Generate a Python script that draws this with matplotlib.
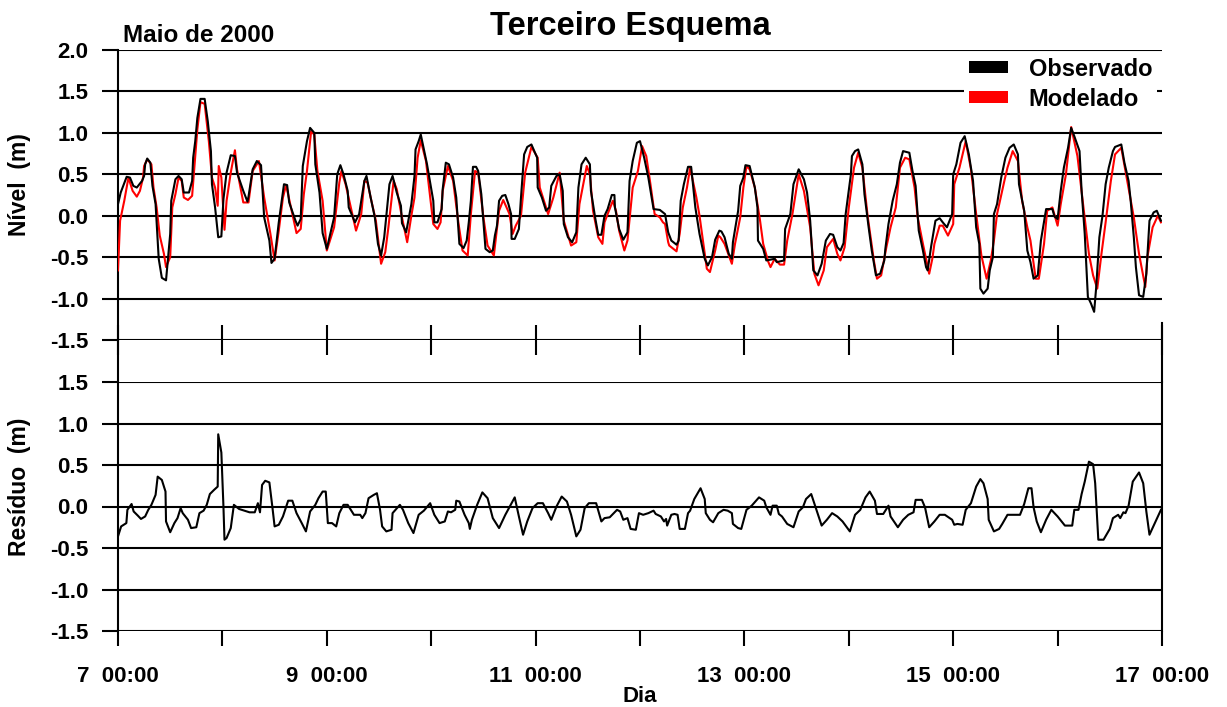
import numpy as np
import matplotlib.pyplot as plt
from matplotlib.patches import Patch
from matplotlib.lines import Line2D

plt.rcParams['font.family'] = ['Liberation Sans', 'DejaVu Sans']
plt.rcParams['font.weight'] = 'bold'

# dia do mes (maio de 2000) e nivel observado (m)
obs_t = [7.0, 7.026, 7.083, 7.115, 7.147, 7.18, 7.23, 7.25, 7.26, 7.28, 7.31, 7.33, 7.36, 7.39, 7.42, 7.46,
         7.5, 7.51, 7.55, 7.58, 7.61, 7.63, 7.68, 7.71, 7.72, 7.74, 7.76, 7.79, 7.83, 7.86, 7.89, 7.9,
         7.93, 7.96, 7.99, 8.01, 8.04, 8.08, 8.12, 8.14, 8.2, 8.24, 8.25, 8.29, 8.33, 8.37, 8.38, 8.4,
         8.45, 8.47, 8.5, 8.54, 8.59, 8.62, 8.64, 8.7, 8.72, 8.75, 8.77, 8.81, 8.84, 8.88, 8.89, 8.93,
         8.96, 9.0, 9.07, 9.1, 9.13, 9.16, 9.2, 9.21, 9.27, 9.31, 9.36, 9.38, 9.42, 9.46, 9.49, 9.52,
         9.55, 9.6, 9.63, 9.67, 9.71, 9.72, 9.76, 9.81, 9.84, 9.85, 9.88, 9.9, 9.96, 10.02, 10.03, 10.06,
         10.1, 10.11, 10.14, 10.17, 10.21, 10.24, 10.27, 10.31, 10.34, 10.36, 10.38, 10.4, 10.43, 10.45, 10.48, 10.52,
         10.56, 10.59, 10.61, 10.63, 10.65, 10.68, 10.71, 10.74, 10.765, 10.77, 10.8, 10.84, 10.86, 10.89, 10.92, 10.96,
         11.015, 11.02, 11.06, 11.1, 11.13, 11.15, 11.2, 11.23, 11.26, 11.27, 11.31, 11.35, 11.39, 11.41, 11.44, 11.48,
         11.52, 11.53, 11.57, 11.6, 11.63, 11.66, 11.69, 11.73, 11.755, 11.76, 11.8, 11.84, 11.88, 11.9, 11.93, 11.97,
         12.0, 12.04, 12.08, 12.13, 12.19, 12.22, 12.24, 12.27, 12.3, 12.35, 12.37, 12.39, 12.42, 12.46, 12.49, 12.51,
         12.53, 12.57, 12.62, 12.65, 12.69, 12.72, 12.76, 12.78, 12.81, 12.85, 12.88, 12.89, 12.94, 12.96, 12.99, 13.01,
         13.05, 13.1, 13.125, 13.13, 13.18, 13.21, 13.29, 13.31, 13.38, 13.39, 13.44, 13.47, 13.52, 13.57, 13.6, 13.63,
         13.66, 13.7, 13.74, 13.78, 13.82, 13.85, 13.89, 13.92, 13.95, 13.97, 14.02, 14.03, 14.06, 14.09, 14.13, 14.15,
         14.19, 14.22, 14.26, 14.3, 14.34, 14.35, 14.38, 14.42, 14.46, 14.49, 14.52, 14.58, 14.61, 14.64, 14.67, 14.71,
         14.74, 14.755, 14.79, 14.83, 14.87, 14.9, 14.94, 14.99, 15.0, 15.03, 15.07, 15.11, 15.15, 15.19, 15.22, 15.25,
         15.26, 15.29, 15.33, 15.35, 15.38, 15.39, 15.42, 15.46, 15.5, 15.54, 15.58, 15.62, 15.63, 15.68, 15.71, 15.74,
         15.77, 15.81, 15.84, 15.89, 15.95, 15.97, 16.0, 16.03, 16.06, 16.1, 16.13, 16.16, 16.21, 16.23, 16.26, 16.29,
         16.32, 16.35, 16.37, 16.4, 16.43, 16.46, 16.49, 16.53, 16.55, 16.61, 16.64, 16.68, 16.7, 16.73, 16.75, 16.78,
         16.82, 16.85, 16.88, 16.92, 16.95, 16.99]
obs_v = [0.14, 0.28, 0.47, 0.46, 0.36, 0.34, 0.42, 0.48, 0.62, 0.69, 0.64, 0.36, 0.14, -0.52, -0.75, -0.78,
         -0.22, 0.18, 0.44, 0.48, 0.44, 0.28, 0.28, 0.42, 0.70, 0.90, 1.18, 1.41, 1.41, 1.14, 0.78, 0.38,
         0.10, -0.26, -0.25, 0.20, 0.52, 0.73, 0.72, 0.52, 0.30, 0.17, 0.23, 0.56, 0.66, 0.61, 0.40, -0.02,
         -0.30, -0.57, -0.52, -0.08, 0.38, 0.37, 0.16, -0.06, -0.12, -0.04, 0.60, 0.90, 1.06, 1.00, 0.62, 0.28,
         -0.21, -0.40, -0.02, 0.50, 0.61, 0.50, 0.30, 0.10, -0.08, 0.02, 0.42, 0.48, 0.22, -0.02, -0.34, -0.48,
         -0.26, 0.38, 0.48, 0.28, 0.12, -0.09, -0.20, 0.14, 0.48, 0.80, 0.90, 0.98, 0.62, 0.18, -0.08, -0.08,
         0.08, 0.32, 0.64, 0.62, 0.46, 0.22, -0.34, -0.39, -0.30, -0.08, 0.18, 0.59, 0.59, 0.54, 0.26, -0.40,
         -0.44, -0.42, -0.24, -0.12, 0.18, 0.24, 0.25, 0.14, 0.02, -0.28, -0.28, -0.16, 0.22, 0.74, 0.83, 0.86,
         0.70, 0.34, 0.22, 0.06, 0.10, 0.36, 0.48, 0.50, 0.30, -0.10, -0.26, -0.32, -0.20, 0.34, 0.62, 0.70,
         0.62, 0.30, -0.02, -0.23, -0.23, 0.00, 0.08, 0.25, 0.25, 0.10, -0.16, -0.29, -0.20, 0.42, 0.66, 0.88,
         0.90, 0.70, 0.46, 0.08, 0.07, 0.04, 0.02, -0.20, -0.30, -0.35, -0.30, 0.18, 0.38, 0.59, 0.59, 0.34,
         0.10, -0.22, -0.52, -0.60, -0.50, -0.29, -0.18, -0.19, -0.26, -0.46, -0.52, -0.32, 0.06, 0.36, 0.46, 0.61,
         0.60, 0.34, 0.10, -0.30, -0.40, -0.54, -0.52, -0.56, -0.54, -0.16, 0.02, 0.38, 0.56, 0.44, 0.28, -0.06,
         -0.66, -0.72, -0.58, -0.30, -0.22, -0.23, -0.38, -0.42, -0.33, 0.02, 0.50, 0.72, 0.78, 0.80, 0.62, 0.26,
         -0.14, -0.42, -0.72, -0.70, -0.54, -0.40, -0.10, 0.18, 0.38, 0.64, 0.78, 0.76, 0.54, 0.36, -0.18, -0.42,
         -0.62, -0.66, -0.36, -0.06, -0.03, -0.08, -0.14, 0.02, 0.50, 0.62, 0.88, 0.96, 0.74, 0.42, -0.14, -0.34,
         -0.88, -0.94, -0.88, -0.66, -0.50, 0.02, 0.14, 0.46, 0.70, 0.82, 0.86, 0.74, 0.38, 0.06, -0.42, -0.56,
         -0.76, -0.72, -0.30, 0.08, 0.08, -0.01, -0.04, 0.30, 0.58, 0.82, 1.06, 0.96, 0.78, 0.30, -0.22, -0.98,
         -1.06, -1.16, -0.86, -0.26, 0.00, 0.38, 0.58, 0.78, 0.83, 0.86, 0.64, 0.42, 0.18, -0.26, -0.62, -0.96,
         -0.98, -0.70, -0.06, 0.04, 0.06, -0.06]

# nivel modelado (m)
mod_t = [7.0, 7.02, 7.06, 7.10, 7.14, 7.18, 7.21, 7.24, 7.25, 7.28, 7.32, 7.34, 7.37, 7.40, 7.44, 7.46,
         7.50, 7.52, 7.55, 7.58, 7.61, 7.63, 7.67, 7.71, 7.74, 7.76, 7.79, 7.83, 7.87, 7.90, 7.93, 7.955,
         7.965, 7.99, 8.02, 8.04, 8.08, 8.12, 8.14, 8.20, 8.25, 8.29, 8.35, 8.40, 8.46, 8.50, 8.54, 8.58,
         8.61, 8.65, 8.71, 8.75, 8.78, 8.81, 8.85, 8.88, 8.91, 8.96, 9.00, 9.07, 9.12, 9.14, 9.18, 9.23,
         9.28, 9.33, 9.36, 9.39, 9.42, 9.47, 9.52, 9.56, 9.59, 9.64, 9.67, 9.72, 9.77, 9.81, 9.84, 9.87,
         9.90, 9.95, 10.02, 10.06, 10.09, 10.11, 10.16, 10.21, 10.26, 10.30, 10.35, 10.38, 10.42, 10.45, 10.50, 10.54,
         10.60, 10.65, 10.69, 10.75, 10.78, 10.81, 10.86, 10.90, 10.96, 11.02, 11.04, 11.09, 11.12, 11.17, 11.23, 11.27,
         11.34, 11.39, 11.42, 11.49, 11.52, 11.55, 11.60, 11.64, 11.66, 11.69, 11.74, 11.77, 11.80, 11.85, 11.88, 11.93,
         11.98, 12.02, 12.06, 12.10, 12.14, 12.19, 12.22, 12.24, 12.27, 12.28, 12.35, 12.38, 12.41, 12.45, 12.48, 12.54,
         12.57, 12.64, 12.67, 12.72, 12.75, 12.77, 12.81, 12.88, 12.91, 12.96, 12.99, 13.02, 13.05, 13.10, 13.15, 13.18,
         13.23, 13.25, 13.29, 13.34, 13.38, 13.41, 13.46, 13.52, 13.57, 13.63, 13.67, 13.71, 13.76, 13.79, 13.85, 13.89,
         13.92, 13.96, 14.00, 14.05, 14.09, 14.13, 14.18, 14.24, 14.27, 14.31, 14.36, 14.40, 14.45, 14.49, 14.54, 14.58,
         14.63, 14.66, 14.71, 14.77, 14.80, 14.82, 14.87, 14.90, 14.95, 15.00, 15.01, 15.06, 15.12, 15.17, 15.22, 15.27,
         15.32, 15.36, 15.39, 15.42, 15.49, 15.52, 15.57, 15.62, 15.66, 15.71, 15.74, 15.79, 15.82, 15.87, 15.90, 15.95,
         16.00, 16.03, 16.08, 16.13, 16.19, 16.24, 16.30, 16.34, 16.38, 16.42, 16.46, 16.51, 16.55, 16.61, 16.65, 16.73,
         16.78, 16.84, 16.86, 16.91, 16.96, 16.99]
mod_v = [-0.66, -0.06, 0.18, 0.46, 0.30, 0.23, 0.30, 0.46, 0.60, 0.68, 0.62, 0.34, 0.10, -0.24, -0.46, -0.62,
         -0.50, 0.10, 0.26, 0.46, 0.42, 0.22, 0.19, 0.24, 0.72, 1.04, 1.37, 1.35, 0.90, 0.46, 0.34, 0.12,
         0.60, 0.46, -0.17, 0.18, 0.52, 0.79, 0.56, 0.16, 0.16, 0.54, 0.66, 0.22, -0.22, -0.54, -0.18, 0.22,
         0.37, 0.14, -0.21, -0.16, 0.26, 0.54, 1.02, 0.98, 0.54, 0.18, -0.42, -0.14, 0.40, 0.54, 0.38, 0.10,
         -0.18, 0.02, 0.42, 0.40, 0.22, -0.06, -0.58, -0.44, -0.14, 0.42, 0.32, -0.02, -0.32, 0.00, 0.22, 0.70,
         0.91, 0.66, -0.10, -0.16, -0.08, 0.30, 0.60, 0.42, -0.08, -0.42, -0.48, 0.02, 0.54, 0.52, -0.02, -0.36,
         -0.48, 0.06, 0.19, 0.02, -0.22, -0.12, 0.00, 0.52, 0.83, 0.70, 0.34, 0.14, 0.02, 0.22, 0.52, -0.06,
         -0.36, -0.32, 0.14, 0.60, 0.50, 0.06, -0.26, -0.34, -0.08, 0.02, 0.18, 0.06, -0.18, -0.42, -0.30, 0.34,
         0.54, 0.84, 0.72, 0.38, 0.02, -0.02, -0.08, -0.10, -0.32, -0.36, -0.43, -0.22, 0.10, 0.34, 0.58, 0.22,
         0.00, -0.64, -0.68, -0.42, -0.24, -0.26, -0.34, -0.58, -0.34, -0.02, 0.34, 0.60, 0.56, 0.34, -0.06, -0.34,
         -0.56, -0.62, -0.52, -0.59, -0.59, -0.30, 0.02, 0.50, 0.30, -0.14, -0.70, -0.84, -0.66, -0.38, -0.28, -0.46,
         -0.54, -0.38, 0.10, 0.58, 0.76, 0.58, 0.00, -0.54, -0.76, -0.72, -0.38, -0.14, 0.10, 0.58, 0.70, 0.68,
         0.34, -0.02, -0.34, -0.70, -0.52, -0.34, -0.12, -0.12, -0.24, -0.10, 0.38, 0.58, 0.90, 0.56, 0.02, -0.48,
         -0.76, -0.54, -0.30, 0.02, 0.42, 0.58, 0.78, 0.66, 0.18, -0.14, -0.30, -0.76, -0.76, -0.34, 0.06, 0.10,
         -0.12, 0.14, 0.50, 1.07, 0.72, 0.18, -0.46, -0.72, -0.88, -0.46, -0.08, 0.42, 0.74, 0.82, 0.54, -0.02,
         -0.46, -0.86, -0.50, -0.14, 0.00, -0.08]

# residuo (m)
res_t = [7.0, 7.03, 7.08, 7.09, 7.13, 7.15, 7.19, 7.22, 7.26, 7.29, 7.32, 7.36, 7.38, 7.42, 7.455, 7.46,
         7.5, 7.54, 7.57, 7.6, 7.62, 7.67, 7.7, 7.75, 7.78, 7.82, 7.85, 7.88, 7.92, 7.955, 7.96, 7.99,
         8.01, 8.02, 8.04, 8.08, 8.11, 8.16, 8.21, 8.26, 8.31, 8.34, 8.36, 8.38, 8.41, 8.45, 8.48, 8.5,
         8.54, 8.58, 8.63, 8.67, 8.71, 8.76, 8.8, 8.84, 8.89, 8.92, 8.96, 8.99, 9.01, 9.05, 9.09, 9.12,
         9.16, 9.2, 9.26, 9.32, 9.34, 9.37, 9.4, 9.45, 9.48, 9.51, 9.53, 9.57, 9.62, 9.63, 9.7, 9.73,
         9.78, 9.83, 9.88, 9.93, 9.99, 10.03, 10.08, 10.13, 10.16, 10.19, 10.23, 10.24, 10.27, 10.32, 10.36, 10.37,
         10.39, 10.44, 10.49, 10.54, 10.59, 10.62, 10.65, 10.71, 10.77, 10.8, 10.84, 10.88, 10.92, 10.97, 11.02, 11.07,
         11.12, 11.15, 11.2, 11.25, 11.3, 11.34, 11.39, 11.43, 11.47, 11.51, 11.58, 11.63, 11.66, 11.71, 11.78, 11.81,
         11.84, 11.88, 11.91, 11.96, 11.99, 12.03, 12.08, 12.13, 12.15, 12.2, 12.23, 12.25, 12.26, 12.3, 12.33, 12.36,
         12.38, 12.43, 12.46, 12.48, 12.52, 12.58, 12.62, 12.63, 12.67, 12.7, 12.75, 12.8, 12.84, 12.88, 12.89, 12.94,
         12.97, 13.02, 13.07, 13.14, 13.19, 13.21, 13.25, 13.27, 13.31, 13.33, 13.36, 13.41, 13.47, 13.52, 13.56, 13.59,
         13.64, 13.69, 13.74, 13.79, 13.84, 13.89, 13.94, 14.01, 14.06, 14.11, 14.16, 14.2, 14.25, 14.27, 14.33, 14.38,
         14.4, 14.47, 14.52, 14.57, 14.62, 14.64, 14.7, 14.73, 14.77, 14.82, 14.87, 14.92, 14.99, 15.01, 15.04, 15.09,
         15.12, 15.17, 15.22, 15.26, 15.29, 15.33, 15.34, 15.39, 15.44, 15.47, 15.52, 15.59, 15.64, 15.68, 15.72, 15.75,
         15.77, 15.8, 15.84, 15.89, 15.94, 16.0, 16.07, 16.14, 16.16, 16.2, 16.23, 16.26, 16.3, 16.34, 16.36, 16.39,
         16.44, 16.5, 16.53, 16.58, 16.6, 16.63, 16.65, 16.68, 16.72, 16.78, 16.82, 16.85, 16.88, 16.92, 16.99]
res_v = [-0.36, -0.24, -0.20, -0.04, 0.03, -0.06, -0.11, -0.15, -0.12, -0.04, 0.02, 0.14, 0.36, 0.32, 0.18, -0.18,
         -0.31, -0.20, -0.14, -0.02, -0.08, -0.16, -0.26, -0.25, -0.08, -0.05, 0.02, 0.15, 0.20, 0.24, 0.87, 0.65,
         0.00, -0.40, -0.38, -0.26, 0.02, -0.03, -0.05, -0.07, -0.07, 0.04, -0.07, 0.26, 0.31, 0.29, -0.02, -0.24,
         -0.22, -0.12, 0.07, 0.07, -0.08, -0.20, -0.30, -0.06, 0.02, 0.10, 0.18, 0.18, -0.20, -0.20, -0.24, -0.08,
         0.02, 0.02, -0.10, -0.10, -0.14, -0.08, 0.10, 0.14, 0.16, -0.04, -0.24, -0.30, -0.28, -0.08, 0.02, -0.04,
         -0.20, -0.32, -0.10, -0.05, 0.04, -0.10, -0.20, -0.18, -0.06, -0.07, -0.04, 0.07, 0.06, -0.10, -0.20, -0.27,
         -0.16, 0.02, 0.17, 0.10, -0.14, -0.20, -0.26, -0.10, 0.04, 0.11, -0.12, -0.34, -0.18, -0.02, 0.04, 0.04,
         -0.08, -0.16, 0.00, 0.12, 0.06, -0.10, -0.36, -0.28, -0.02, 0.04, 0.04, -0.18, -0.14, -0.13, -0.04, -0.06,
         -0.16, -0.14, -0.27, -0.28, -0.08, -0.10, -0.08, -0.05, -0.09, -0.12, -0.18, -0.15, -0.23, -0.10, -0.09, -0.10,
         -0.27, -0.27, -0.08, -0.05, 0.09, 0.22, 0.09, -0.08, -0.16, -0.19, -0.08, -0.04, -0.05, -0.08, -0.21, -0.26,
         -0.27, -0.04, 0.01, 0.11, 0.07, -0.01, -0.10, 0.01, 0.01, -0.09, -0.12, -0.21, -0.25, -0.06, -0.01, 0.09,
         0.15, -0.04, -0.23, -0.16, -0.08, -0.12, -0.18, -0.30, -0.10, -0.04, 0.11, 0.18, 0.07, -0.09, -0.09, 0.01,
         -0.12, -0.25, -0.16, -0.10, -0.07, 0.08, 0.08, -0.01, -0.25, -0.18, -0.10, -0.10, -0.16, -0.22, -0.21, -0.22,
         -0.04, 0.04, 0.24, 0.33, 0.28, 0.09, -0.16, -0.30, -0.27, -0.21, -0.10, -0.10, -0.10, 0.03, 0.22, 0.22,
         -0.01, -0.18, -0.31, -0.16, -0.04, -0.12, -0.23, -0.23, -0.04, -0.04, 0.15, 0.30, 0.54, 0.51, 0.28, -0.40,
         -0.40, -0.27, -0.14, -0.10, -0.14, -0.07, -0.08, 0.01, 0.30, 0.41, 0.28, -0.06, -0.34, -0.23, -0.04]

days = list(range(7, 18))
day_labels = [f'{d}  00:00' if d % 2 == 1 else '' for d in days]
level_ticks = [-1.5, -1.0, -0.5, 0.0, 0.5, 1.0, 1.5, 2.0]
res_ticks = [-1.5, -1.0, -0.5, 0.0, 0.5, 1.0, 1.5]

W, H = 1227, 707
fig = plt.figure(figsize=(W / 100, H / 100), dpi=100)

def fx(px):
    return px / W

def fy(py):
    return 1 - py / H

ax1 = fig.add_axes([fx(118), fy(340), fx(1162) - fx(118), fy(50) - fy(340)])
ax2 = fig.add_axes([fx(118), fy(631), fx(1162) - fx(118), fy(382) - fy(631)])

ax1.plot(mod_t, mod_v, color='red', lw=1.5, zorder=3)
ax1.plot(obs_t, obs_v, color='black', lw=1.5, zorder=4)
ax2.plot(res_t, res_v, color='black', lw=1.5, zorder=4)

for ax, lo, hi, ticks in [(ax1, -1.5, 2.0, level_ticks), (ax2, -1.5, 1.5, res_ticks)]:
    ax.set_xlim(7, 17)
    ax.set_ylim(lo, hi)
    ax.set_yticks(ticks)
    ax.set_yticklabels([f'{t:.1f}' for t in ticks])
    for t in ticks:
        ax.axhline(t, color='black', lw=1.5, zorder=2)
    for s in ['top', 'right', 'bottom']:
        ax.spines[s].set_visible(False)
    ax.spines['left'].set_linewidth(1.5)
    ax.tick_params(axis='y', direction='out', length=11.5, width=1.5, pad=10,
                   labelsize=16)
    for lab in ax.get_yticklabels():
        lab.set_fontweight('bold')

ax1.set_xticks(days)
ax1.set_xticklabels([])
ax1.tick_params(axis='x', direction='inout', length=21.5, width=1.5)

ax2.spines['right'].set_visible(True)
ax2.spines['right'].set_linewidth(1.5)
ax2.set_xticks(days)
ax2.set_xticklabels(day_labels)
ax2.tick_params(axis='x', direction='out', length=11, width=1.5, pad=14, labelsize=16)
for lab in ax2.get_xticklabels():
    lab.set_fontweight('bold')

# linhas entre os dois paineis
fig.add_artist(Line2D([fx(118), fx(118)], [fy(340), fy(382)], color='black', lw=1.5))
fig.add_artist(Line2D([fx(1162), fx(1162)], [fy(323), fy(382)], color='black', lw=1.5))

handles = [Patch(facecolor='black', edgecolor='none', label='Observado'),
           Patch(facecolor='red', edgecolor='none', label='Modelado')]
leg = ax1.legend(handles=handles, loc='upper right', bbox_to_anchor=(fx(1157), fy(53)),
                 bbox_transform=fig.transFigure, frameon=True, fancybox=False,
                 edgecolor='none', facecolor='white', framealpha=1,
                 prop={'size': 17, 'weight': 'bold'}, handlelength=1.65, handleheight=0.42,
                 handletextpad=0.9, labelspacing=0.3, borderpad=0.2, borderaxespad=0)
leg.set_zorder(10)

fig.text(fx(630), fy(27), 'Terceiro Esquema', ha='center', va='center', fontsize=23.5, fontweight='bold')
fig.text(fx(123), fy(42), 'Maio de 2000', ha='left', va='baseline', fontsize=17.5, fontweight='bold')
fig.text(fx(640), fy(697), 'Dia', ha='center', va='center', fontsize=16, fontweight='bold')
fig.text(fx(20), fy(185), 'Nível  (m)', ha='center', va='center', rotation=90, fontsize=16.5, fontweight='bold')
fig.text(fx(20), fy(487), 'Resíduo  (m)', ha='center', va='center', rotation=90, fontsize=16.5, fontweight='bold')

fig.savefig('out.png', dpi=100)
